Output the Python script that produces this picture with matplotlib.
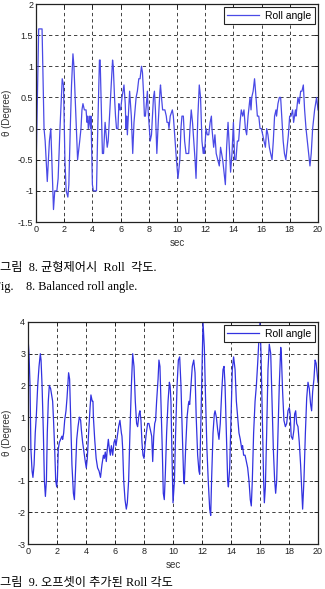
import matplotlib
matplotlib.use("Agg")
import matplotlib.pyplot as plt
from matplotlib.ticker import MultipleLocator, FuncFormatter

# Fig. 8 - balanced roll angle (sec, degree)
t_bal = [0.00, 0.19, 0.43, 0.57, 0.65, 0.80, 0.95, 1.05, 1.24, 1.33, 1.48, 1.57, 1.70, 1.86, 1.95,
         2.05, 2.14, 2.26, 2.33, 2.43, 2.52, 2.62, 2.69, 2.95, 3.10, 3.19, 3.26, 3.33, 3.43, 3.55,
         3.62, 3.67, 3.71, 3.81, 3.86, 3.90, 4.00, 4.07, 4.29, 4.38, 4.50, 4.55, 4.71, 4.79, 4.90,
         5.05, 5.12, 5.24, 5.43, 5.48, 5.57, 5.64, 5.71, 5.81, 5.88, 5.95, 6.00, 6.10, 6.24, 6.33,
         6.38, 6.43, 6.48, 6.57, 6.64, 6.76, 6.86, 6.95, 7.10, 7.19, 7.29, 7.38, 7.48, 7.55, 7.62,
         7.69, 7.76, 7.90, 7.95, 8.10, 8.19, 8.33, 8.40, 8.47, 8.57, 8.67, 8.79, 8.83, 8.90, 8.98,
         9.14, 9.24, 9.29, 9.38, 9.43, 9.52, 9.67, 9.74, 9.90, 9.96, 10.07, 10.20, 10.28, 10.35, 10.45,
         10.54, 10.64, 10.83, 10.92, 11.01, 11.10, 11.28, 11.35, 11.40, 11.48, 11.58, 11.67, 11.77, 11.86, 11.91,
         11.95, 12.06, 12.15, 12.25, 12.35, 12.44, 12.48, 12.60, 12.69, 12.78, 13.00, 13.09, 13.24, 13.43, 13.52,
         13.62, 13.71, 13.80, 13.90, 14.00, 14.09, 14.18, 14.28, 14.37, 14.47, 14.56, 14.66, 14.75, 14.85, 14.94,
         15.04, 15.18, 15.25, 15.30, 15.40, 15.50, 15.57, 15.70, 15.80, 15.89, 15.98, 16.08, 16.17, 16.27, 16.36,
         16.45, 16.55, 16.64, 16.74, 16.83, 16.92, 17.02, 17.06, 17.16, 17.26, 17.35, 17.43, 17.53, 17.62, 17.72,
         17.81, 17.90, 17.99, 18.09, 18.20, 18.27, 18.40, 18.44, 18.58, 18.67, 18.77, 18.86, 18.96, 19.05, 19.15,
         19.29, 19.43, 19.52, 19.62, 19.76, 19.90, 20.00]
roll_bal = [-0.70, 1.60, 1.60, 0.00, -0.20, -0.85, -0.20, 0.00, -1.30, -1.00, -1.00, -0.80, 0.00, 0.80, 0.70,
            -0.50, -1.00, -1.10, -0.90, 0.00, 0.70, 1.20, 1.00, -0.50, -0.20, 0.00, 0.30, 0.40, 0.30, 0.30,
            0.10, 0.20, 0.00, 0.20, 0.00, 0.20, -0.90, -1.00, -1.00, 0.00, 1.10, 1.10, -0.40, -0.40, 0.10,
            -0.30, -0.20, 0.30, 1.10, 1.00, 0.50, 0.20, 0.00, 0.00, 0.40, 0.30, 0.30, 0.50, 0.70, 0.40,
            0.00, 0.20, -0.10, 0.30, 0.60, 0.20, -0.40, 0.10, 0.50, 0.60, 0.80, 0.80, 1.00, 0.90, 0.60,
            0.20, 0.20, 0.60, 0.30, -0.20, -0.10, 0.50, 0.60, 0.30, -0.40, 0.10, 0.60, 0.70, 0.50, 0.30,
            0.30, 0.20, 0.10, 0.10, 0.00, 0.20, 0.30, 0.20, -0.30, -0.50, -0.80, -0.50, 0.00, 0.20, 0.20,
            -0.20, -0.40, -0.40, 0.00, 0.30, 0.10, -0.50, -0.80, -0.40, 0.20, 0.70, 0.50, -0.20, -0.40, -0.30,
            -0.40, 0.00, -0.10, -0.10, 0.10, 0.20, 0.00, -0.30, -0.10, -0.40, -0.60, -0.30, -0.50, -0.90, -0.30,
            0.10, -0.30, -0.70, -0.40, 0.10, -0.50, -0.50, -0.20, -0.20, 0.10, 0.30, 0.20, 0.30, 0.00, -0.10,
            0.20, 0.50, 0.30, 0.50, 0.60, 0.80, 0.60, 0.20, 0.20, 0.00, 0.00, -0.10, -0.20, -0.30, 0.00,
            -0.10, -0.30, -0.40, -0.50, -0.20, 0.20, 0.30, 0.20, 0.40, 0.50, 0.50, 0.20, -0.20, -0.40, -0.50,
            -0.30, -0.10, 0.20, 0.20, 0.30, 0.10, 0.30, 0.20, 0.50, 0.40, 0.60, 0.60, 0.70, 0.30, 0.00,
            -0.30, -0.60, -0.40, 0.00, 0.30, 0.50, 0.30]

# Fig. 9 - roll angle with offset added
t_off = [0.00, 0.07, 0.14, 0.20, 0.28, 0.34, 0.42, 0.50, 0.57, 0.67, 0.76, 0.85, 0.90, 0.97, 1.06,
         1.13, 1.20, 1.27, 1.33, 1.40, 1.47, 1.56, 1.66, 1.70, 1.77, 1.84, 1.91, 1.98, 2.03, 2.09,
         2.16, 2.25, 2.34, 2.39, 2.46, 2.53, 2.62, 2.69, 2.80, 2.87, 2.94, 3.03, 3.13, 3.20, 3.25,
         3.36, 3.45, 3.54, 3.63, 3.68, 3.77, 3.86, 3.95, 4.02, 4.09, 4.18, 4.28, 4.34, 4.43, 4.48,
         4.51, 4.60, 4.70, 4.80, 4.90, 5.00, 5.10, 5.20, 5.26, 5.33, 5.40, 5.47, 5.54, 5.61, 5.68,
         5.75, 5.84, 5.93, 6.00, 6.07, 6.16, 6.25, 6.34, 6.44, 6.48, 6.53, 6.60, 6.69, 6.78, 6.85,
         6.94, 7.03, 7.13, 7.22, 7.31, 7.40, 7.49, 7.56, 7.66, 7.72, 7.79, 7.86, 7.93, 8.00, 8.07,
         8.16, 8.25, 8.34, 8.44, 8.53, 8.60, 8.67, 8.74, 8.80, 8.87, 8.97, 9.03, 9.10, 9.17, 9.26,
         9.33, 9.40, 9.47, 9.56, 9.66, 9.75, 9.80, 9.86, 9.92, 10.00, 10.10, 10.18, 10.28, 10.37, 10.46,
         10.55, 10.64, 10.74, 10.78, 10.87, 10.97, 11.06, 11.10, 11.15, 11.24, 11.33, 11.43, 11.52, 11.60, 11.70,
         11.79, 11.84, 11.93, 12.02, 12.07, 12.16, 12.25, 12.34, 12.43, 12.53, 12.60, 12.66, 12.76, 12.85, 12.90,
         12.99, 13.08, 13.17, 13.26, 13.36, 13.45, 13.52, 13.59, 13.68, 13.77, 13.82, 13.91, 14.00, 14.09, 14.18,
         14.28, 14.37, 14.46, 14.55, 14.64, 14.74, 14.80, 14.87, 14.97, 15.06, 15.15, 15.24, 15.33, 15.40, 15.47,
         15.56, 15.66, 15.75, 15.84, 15.93, 16.00, 16.07, 16.16, 16.25, 16.30, 16.37, 16.46, 16.55, 16.64, 16.74,
         16.83, 16.92, 17.01, 17.08, 17.15, 17.24, 17.33, 17.43, 17.47, 17.56, 17.65, 17.75, 17.84, 17.93, 18.02,
         18.08, 18.15, 18.25, 18.34, 18.39, 18.46, 18.53, 18.62, 18.71, 18.80, 18.90, 18.94, 19.03, 19.13, 19.22,
         19.31, 19.40, 19.49, 19.56, 19.63, 19.72, 19.80, 19.87, 20.00]
roll_off = [3.50, 3.00, 2.00, 0.00, -0.70, -0.90, -0.50, 0.50, 1.00, 2.00, 2.60, 3.00, 2.80, 2.00, 0.50,
            -1.00, -1.50, -1.00, 0.50, 1.50, 2.00, 1.90, 1.60, 1.50, 0.80, 0.00, -1.00, -1.20, -0.90, 0.00,
            0.20, 0.30, 0.40, 0.30, 0.50, 0.90, 1.20, 1.60, 2.40, 2.20, 1.00, -0.50, -1.40, -1.60, -1.00,
            0.30, 0.70, 1.00, 0.90, 0.60, 0.20, -0.10, -0.40, -0.60, -0.30, 0.50, 1.30, 1.70, 1.50, 1.50,
            1.00, 0.30, -0.30, -0.60, -0.70, -0.90, -0.50, -0.20, -0.30, -0.10, -0.40, 0.00, 0.30, 0.00, -0.20,
            0.10, -0.20, 0.20, 0.30, 0.10, 0.40, 0.70, 0.90, 0.50, 0.40, 0.00, -1.00, -1.60, -1.90, -1.70,
            -1.00, 0.50, 2.00, 3.00, 2.60, 1.50, 0.80, 0.70, 1.10, 1.20, 0.90, 0.20, -0.20, -0.30, 0.10,
            0.50, 0.80, 0.80, 0.60, 0.40, -0.40, 0.40, 0.80, 0.90, 1.50, 2.20, 2.80, 2.60, 1.50, 0.00,
            -1.40, -1.60, -0.80, 0.50, 1.50, 2.10, 2.00, 1.50, 0.00, -1.70, -1.00, 0.50, 2.00, 2.80, 2.90,
            2.00, 0.50, -1.00, -1.10, 0.00, 1.00, 1.40, 1.50, 1.40, 2.00, 2.60, 2.80, 2.40, 1.00, -0.20,
            -0.70, -0.80, 1.00, 3.00, 4.00, 3.20, 1.50, 0.00, -1.00, -1.90, -2.10, -1.00, 0.50, 1.10, 1.20,
            1.00, 0.60, 0.30, 0.80, 1.80, 2.50, 2.60, 2.00, 0.50, -1.00, -1.20, -0.60, 1.00, 2.50, 2.90,
            2.50, 1.50, 1.00, 0.50, 0.30, 0.00, 0.10, -0.20, -0.20, -0.40, -0.60, -1.00, -1.60, -1.80, -1.00,
            0.50, 1.50, 2.00, 2.70, 3.50, 4.00, 3.00, 1.00, -1.00, -1.70, -1.20, 0.50, 2.50, 3.30, 3.00,
            1.50, 0.00, -1.00, -1.40, -1.00, 0.50, 2.00, 3.20, 3.00, 1.80, 0.90, 0.70, 0.80, 1.20, 1.30,
            1.10, 0.40, 0.30, 0.60, 1.10, 1.20, 0.80, 0.70, 0.20, -0.50, -1.50, -1.90, -1.00, 0.50, 1.60,
            2.10, 1.90, 1.40, 1.20, 1.80, 2.20, 2.80, 2.70, 2.10]

captions = ["그림  8. 균형제어시  Roll  각도.",
            "Fig.    8. Balanced roll angle.",
            "그림  9. 오프셋이 추가된 Roll 각도"]

plt.rcParams['font.family'] = ['Liberation Sans', 'DejaVu Sans']
serif_kr = ['Liberation Serif', 'Noto Sans CJK KR']

fig = plt.figure(figsize=(3.25, 5.89), dpi=100)
ax1 = fig.add_axes([36/325, 1 - 222/589, 282/325, 218/589])
ax2 = fig.add_axes([28/325, 1 - 544/589, 290/325, 222/589])

fmt = FuncFormatter(lambda v, p: "%g" % v)


def style(ax, ylo, yhi, ystep):
    ax.set_xlim(0, 20)
    ax.set_ylim(ylo, yhi)
    ax.xaxis.set_major_locator(MultipleLocator(2))
    ax.yaxis.set_major_locator(MultipleLocator(ystep))
    ax.yaxis.set_major_formatter(fmt)
    ax.tick_params(direction='in', length=3, width=0.7, labelsize=6.5, pad=2,
                   top=True, right=True, colors='#222222')
    ax.grid(True, color='#222222', linestyle=(0, (4, 3.5)), linewidth=0.6)
    for s in ax.spines.values():
        s.set_linewidth(0.9)
        s.set_color('#222222')
    ax.set_xlabel("sec", fontsize=7, labelpad=3, color='#333333')
    ax.set_ylabel("θ (Degree)", fontsize=7, color='#333333')
    leg = ax.legend(loc='upper right', fontsize=7.5, fancybox=False, framealpha=1,
                    edgecolor='#222222', borderaxespad=0.3, handlelength=3.0,
                    borderpad=0.35, handletextpad=0.6)
    leg.get_frame().set_linewidth(0.8)


ax1.plot(t_bal, roll_bal, color='#4a4ae6', linewidth=0.9, label='Roll angle')
style(ax1, -1.5, 2, 0.5)
ax1.yaxis.set_label_coords(-0.085, 0.5)

ax2.plot(t_off, roll_off, color='#3232e0', linewidth=0.9, label='Roll angle')
style(ax2, -3, 4, 1)
ax2.yaxis.set_label_coords(-0.055, 0.5)

fig.text(0/325, 1 - 268/589, captions[0], fontsize=8.8, family=serif_kr, va='center', ha='left')
fig.text(-6/325, 1 - 287/589, captions[1], fontsize=8.8, family=serif_kr, va='center', ha='left')
fig.text(0/325, 1 - 583/589, captions[2], fontsize=8.8, family=serif_kr, va='center', ha='left')

fig.savefig("out.png", dpi=100)
